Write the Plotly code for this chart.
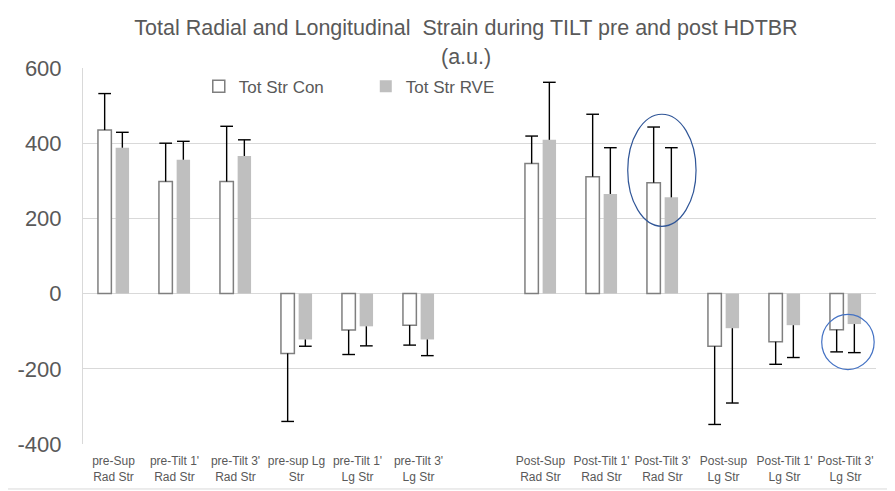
import plotly.graph_objects as go

categories = ["pre-Sup<br>Rad Str", "pre-Tilt 1'<br>Rad Str", "pre-Tilt 3'<br>Rad Str",
              "pre-sup Lg<br>Str", "pre-Tilt 1'<br>Lg Str", "pre-Tilt 3'<br>Lg Str",
              "Post-Sup<br>Rad Str", "Post-Tilt 1'<br>Rad Str", "Post-Tilt 3'<br>Rad Str",
              "Post-sup<br>Lg Str", "Post-Tilt 1'<br>Lg Str", "Post-Tilt 3'<br>Lg Str"]
con_values = [435, 298, 298, -159, -97, -84, 346, 311, 295, -140, -128, -96]
con_errors = [97, 102, 147, 181, 65, 53, 73, 166, 148, 208, 60, 59]
rve_values = [388, 356, 366, -122, -87, -122, 409, 265, 256, -92, -84, -81]
rve_errors = [41, 49, 43, 18, 52, 43, 153, 123, 132, 199, 86, 76]
series_names = ["Tot Str Con", "Tot Str RVE"]
y_tick_values = [-400, -200, 0, 200, 400, 600]
y_tick_labels = ["-400", "-200", "0", "200", "400", "600"]
title_line1 = "Total Radial and Longitudinal  Strain during TILT pre and post HDTBR"
title_line2 = "(a.u.)"

# category positions: pre group, one empty slot, post group
xpos = [i if i < 6 else i + 1 for i in range(len(categories))]
off = 0.145
bw = 0.22
cap = 0.104

font_fam = "Liberation Sans, Arial, sans-serif"
txt_col = "#595959"

fig = go.Figure()
fig.add_trace(go.Bar(x=[p - off for p in xpos], y=con_values, width=bw, name=series_names[0],
                     marker=dict(color="white", line=dict(color="#7f7f7f", width=1.5))))
fig.add_trace(go.Bar(x=[p + off for p in xpos], y=rve_values, width=bw, name=series_names[1],
                     marker=dict(color="#bfbfbf", line=dict(width=0))))


def err_path(values, errors, shift):
    xs, ys = [], []
    for p, v, e in zip(xpos, values, errors):
        xc = p + shift
        end = v + e if v >= 0 else v - e
        xs += [xc, xc, None, xc - cap, xc + cap, None]
        ys += [v, end, None, end, end, None]
    return xs, ys


for vals, errs, sh in [(con_values, con_errors, -off), (rve_values, rve_errors, off)]:
    ex, ey = err_path(vals, errs, sh)
    fig.add_trace(go.Scatter(x=ex, y=ey, mode="lines", line=dict(color="black", width=1.4),
                             showlegend=False, hoverinfo="skip"))

# highlight ellipses
fig.add_shape(type="circle", xref="x", yref="y", x0=8.43, x1=9.55, y0=179, y1=477,
              line=dict(color="#2F5597", width=1.2))
fig.add_shape(type="circle", xref="x", yref="y", x0=11.61, x1=12.47, y0=-202, y1=-55,
              line=dict(color="#4472C4", width=1.2))
# chart border
fig.add_shape(type="rect", xref="paper", yref="paper", x0=-0.0971, x1=1.0177, y0=-0.1196, y1=1.1676,
              line=dict(color="#d9d9d9", width=1), layer="below")

# second title line
fig.add_annotation(text=title_line2, xref="paper", yref="paper",
                   x=(466 - 83) / 793, y=(444 - 57) / 376, xanchor="center", yanchor="middle",
                   showarrow=False, font=dict(size=21.5, color=txt_col, family=font_fam))

fig.update_layout(
    width=887, height=483,
    margin=dict(l=75, r=19, t=60, b=47),
    paper_bgcolor="white", plot_bgcolor="white",
    font=dict(family=font_fam, color=txt_col),
    title=dict(text=title_line1, x=(466 - 8) / 887, xanchor="center", xref="container",
               y=1 - (27 - 8) / 483, yanchor="middle", font=dict(size=21.5, color=txt_col, family=font_fam)),
    barmode="overlay",
    showlegend=True,
    legend=dict(orientation="h", x=0.146, y=0.95, xanchor="left", yanchor="middle",
                font=dict(size=17, color=txt_col), bgcolor="rgba(0,0,0,0)",
                entrywidth=122, traceorder="normal"),
    xaxis=dict(range=[-0.5, 12.5], tickmode="array", tickvals=xpos, ticktext=categories,
               showgrid=False, zeroline=False, showline=False, ticks="",
               ticklabelstandoff=8, automargin=False,
               tickfont=dict(size=12, color=txt_col)),
    yaxis=dict(range=[-400, 600], tickmode="array", tickvals=y_tick_values, ticktext=y_tick_labels,
               showgrid=True, gridcolor="#d9d9d9",
               gridwidth=1, zeroline=True, zerolinecolor="#d9d9d9", zerolinewidth=1,
               showline=True, linecolor="#d9d9d9", linewidth=1, ticks="",
               ticklabelstandoff=16, automargin=False,
               tickfont=dict(size=22, color=txt_col)),
)

fig.write_html("out.html")
